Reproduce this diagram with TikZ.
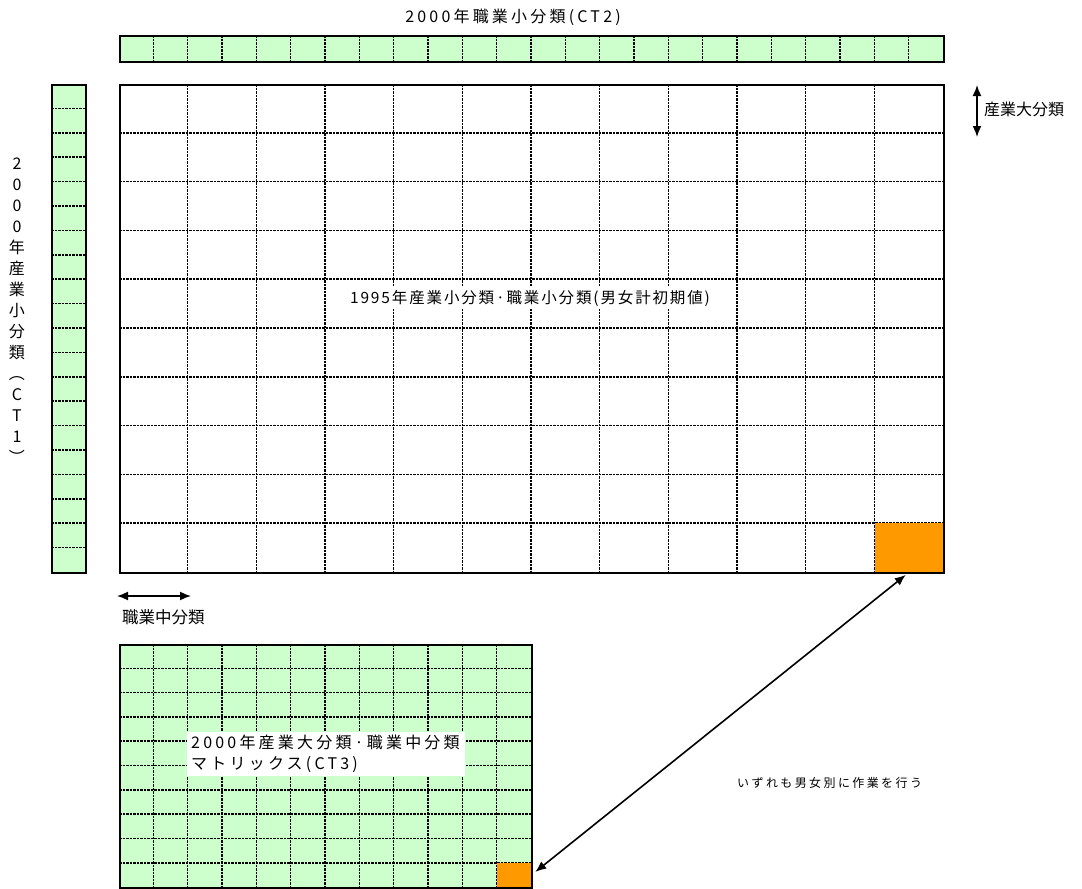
\documentclass[tikz,border=0pt]{standalone}
\usepackage{fontspec}
\usetikzlibrary{arrows.meta}
\newfontfamily\jp[LetterSpace=20]{Noto Sans CJK JP}
\newfontfamily\jpm[LetterSpace=12]{Noto Sans CJK JP}
\newfontfamily\jpn{Noto Sans CJK JP}
\definecolor{lgreen}{HTML}{CCFFCC}
\definecolor{orng}{HTML}{FF9900}
\begin{document}
\begin{tikzpicture}[x=1pt,y=-1pt,
  gridline/.style={line width=1.6pt, dash pattern=on 2.5pt off 1pt},
  framebox/.style={draw, line width=2.2pt, inner sep=0pt, anchor=north west},
  cellfill/.style={fill=orng, inner sep=0pt, anchor=north west},
  dblarrow/.style={{Latex[length=11pt,width=9pt]}-{Latex[length=11pt,width=9pt]}, line width=1.6pt},
  title/.style={font=\jp\fontsize{16}{20}\selectfont, inner sep=1pt},
  lbl/.style={font=\jp\fontsize{16}{20}\selectfont, inner sep=1pt}]
\useasboundingbox (0,0) rectangle (1082,889);

% top bar CT2
\fill[lgreen] (119,35) rectangle (943,61);
\foreach \i in {1,...,23} \draw[gridline] ({119+\i*34.333},35) -- ({119+\i*34.333},61);
\node[framebox, minimum width=824pt, minimum height=26pt] (ct2) at (119,35) {};
\node[title] (ct2lbl) at (513,17) {2000年職業小分類(CT2)};

% main grid
\foreach \i in {1,...,11} \draw[gridline] ({119+\i*68.667},84) -- ({119+\i*68.667},572);
\foreach \j in {1,...,9} \draw[gridline] (119,{84+\j*48.8}) -- (943,{84+\j*48.8});
\node[cellfill, minimum width=68.67pt, minimum height=48.8pt] (om) at (874.33,523.2) {};
\node[framebox, minimum width=824pt, minimum height=488pt] (main) at (119,84) {};
\node[lbl, fill=white, font=\jpm\fontsize{15.5}{18}\selectfont, inner sep=3pt] (mainlbl) at (530,298) {1995年産業小分類·職業小分類(男女計初期値)};

% left bar CT1
\fill[lgreen] (51,84) rectangle (85,572);
\foreach \j in {1,...,19} \draw[gridline] (51,{84+\j*24.4}) -- (85,{84+\j*24.4});
\node[framebox, minimum width=34pt, minimum height=488pt] (ct1) at (51,84) {};
\node[font=\jpn\fontsize{16}{21}\selectfont, align=center, inner sep=0pt] (ct1lbl) at (17,311) {2\\0\\0\\0\\年\\産\\業\\小\\分\\類\\︵\\C\\T\\1\\︶};

% 産業大分類 arrow
\coordinate (va) at (977,85);
\coordinate (vb) at (977,137);
\draw[dblarrow] (va) -- (vb);
\node[lbl, anchor=west, font=\jpn\fontsize{16}{20}\selectfont] (sangyo) at (983,109) {産業大分類};

% 職業中分類 arrow
\coordinate (ha) at (117,596);
\coordinate (hb) at (191,596);
\draw[dblarrow] (ha) -- (hb);
\node[lbl, anchor=west, font=\jpn\fontsize{16.5}{20}\selectfont] (shokugyo) at (121,617) {職業中分類};

% bottom matrix CT3
\fill[lgreen] (119,644) rectangle (531,887);
\foreach \i in {1,...,11} \draw[gridline] ({119+\i*34.333},644) -- ({119+\i*34.333},887);
\foreach \j in {1,...,9} \draw[gridline] (119,{644+\j*24.3}) -- (531,{644+\j*24.3});
\node[cellfill, minimum width=34.33pt, minimum height=24.3pt] (ob) at (496.67,862.7) {};
\node[framebox, minimum width=412pt, minimum height=243pt] (ct3) at (119,644) {};
\node[lbl, fill=white, anchor=north west, align=left, text width=270pt, inner xsep=4pt, inner ysep=3pt, font=\jp\fontsize{16}{21}\selectfont] (ct3lbl) at (187,732) {2000年産業大分類·職業中分類\\マトリックス(CT3)};

% link arrow
\draw[dblarrow, shorten <=5pt, shorten >=4pt] (ob.east) -- (om.south);
\node[font=\jp\fontsize{12}{15}\selectfont, anchor=west, inner sep=0pt] (note) at (737,783) {いずれも男女別に作業を行う};
\end{tikzpicture}
\end{document}
